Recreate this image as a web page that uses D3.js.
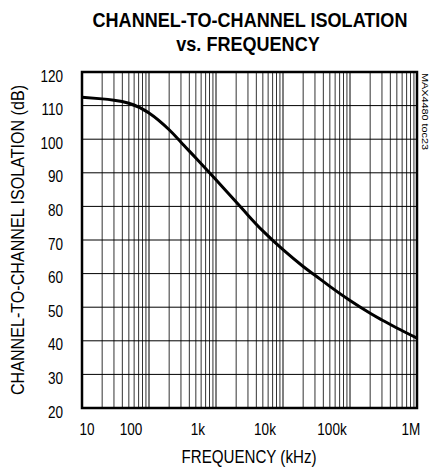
<!DOCTYPE html>
<html>
<head>
<meta charset="utf-8">
<script src="https://cdn.jsdelivr.net/npm/d3@7"></script>
<style>
  body { margin: 0; background: #fff; }
  text { font-family: "Liberation Sans Narrow", "Arial Narrow", "Liberation Sans", sans-serif; fill: #000; }
</style>
</head>
<body>
<div id="chart"></div>
<script>
// isolation curve (frequency in kHz, isolation in dB)
var freqs = [10, 20, 30, 50, 100, 200, 300, 500, 1000, 2000, 3000, 5000,
             10000, 20000, 30000, 50000, 100000, 200000, 300000, 500000, 1000000];
var isolation = [112.5, 112.0, 111.6, 110.7, 107.8, 102.8, 99.1, 94.4, 87.9, 81.3, 77.4, 72.7,
                 67.1, 62.1, 59.5, 56.2, 52.0, 48.2, 46.2, 43.8, 40.8];

var xTickValues = [10, 100, 1000, 10000, 100000, 1000000];
var xTickLabels = ["10", "100", "1k", "10k", "100k", "1M"];
var yTickValues = [20, 30, 40, 50, 60, 70, 80, 90, 100, 110, 120];

var W = 429, H = 470;
var margin = { left: 82, right: 12, top: 72, bottom: 62 };

var svg = d3.select('#chart').append('svg')
    .attr('width', W)
    .attr('height', H);

var x = d3.scaleLog()
    .domain([10, 1000000])
    .range([margin.left, W - margin.right]);

var y = d3.scaleLinear()
    .domain([20, 120])
    .range([H - margin.bottom, margin.top]);

// squeeze text to a narrow face (no Arial Narrow here)
function narrow(sel, factor) {
    sel.each(function(){
        var len = this.getComputedTextLength();
        d3.select(this)
            .attr('textLength', len * factor)
            .attr('lengthAdjust', 'spacingAndGlyphs');
    });
}

// vertical grid, 1..9 per decade
svg.append('g')
    .selectAll('line')
    .data(x.ticks())
    .enter().append('line')
    .attr('x1', function(d){ return x(d); })
    .attr('x2', function(d){ return x(d); })
    .attr('y1', y(20))
    .attr('y2', y(120))
    .attr('stroke', function(d){ return xTickValues.indexOf(d) >= 0 ? '#000' : '#333'; })
    .attr('stroke-width', 1);

// horizontal grid
svg.append('g')
    .selectAll('line')
    .data(yTickValues)
    .enter().append('line')
    .attr('x1', x(10))
    .attr('x2', x(1000000))
    .attr('y1', function(d){ return y(d); })
    .attr('y2', function(d){ return y(d); })
    .attr('stroke', '#000')
    .attr('stroke-width', 1);

// frame
svg.append('rect')
    .attr('x', x(10))
    .attr('y', y(120))
    .attr('width', x(1000000) - x(10))
    .attr('height', y(20) - y(120))
    .attr('fill', 'none')
    .attr('stroke', '#000')
    .attr('stroke-width', 2.5);

// curve
var line = d3.line()
    .x(function(d){ return x(d[0]); })
    .y(function(d){ return y(d[1]); })
    .curve(d3.curveNatural);

svg.append('path')
    .datum(d3.zip(freqs, isolation))
    .attr('d', line)
    .attr('fill', 'none')
    .attr('stroke', '#000')
    .attr('stroke-width', 3)
    .attr('stroke-linejoin', 'round');

// y tick labels
svg.append('g')
    .selectAll('text')
    .data(yTickValues)
    .enter().append('text')
    .attr('x', x(10) - 19)
    .attr('y', function(d){ return y(d) + 9.5; })
    .attr('text-anchor', 'end')
    .attr('font-size', 16.5)
    .text(function(d){ return d; })
    .call(narrow, 0.82);

// x tick labels (ends kept inside the frame like the original)
svg.append('g')
    .selectAll('text')
    .data(xTickValues)
    .enter().append('text')
    .attr('x', function(d){ return x(d); })
    .attr('dx', function(d, i){
        if (i === 0) return 5;
        if (i === xTickValues.length - 1) return -6;
        return -18;
    })
    .attr('y', y(20) + 27)
    .attr('text-anchor', 'middle')
    .attr('font-size', 16.5)
    .text(function(d, i){ return xTickLabels[i]; })
    .call(narrow, 0.82);

// titles, squeezed with a transform so the box stays inside the page
svg.append('text')
    .attr('transform', 'translate(250,27) scale(0.86,1)')
    .attr('text-anchor', 'middle')
    .attr('font-size', 21)
    .attr('font-weight', 'bold')
    .text('CHANNEL-TO-CHANNEL ISOLATION');

svg.append('text')
    .attr('transform', 'translate(248,51) scale(0.86,1)')
    .attr('text-anchor', 'middle')
    .attr('font-size', 21)
    .attr('font-weight', 'bold')
    .text('vs. FREQUENCY');

svg.append('text')
    .attr('x', 249).attr('y', 463)
    .attr('text-anchor', 'middle')
    .attr('font-size', 18)
    .attr('textLength', 135)
    .attr('lengthAdjust', 'spacingAndGlyphs')
    .text('FREQUENCY (kHz)');

svg.append('text')
    .attr('transform', 'translate(24,240) rotate(-90)')
    .attr('text-anchor', 'middle')
    .attr('font-size', 18.5)
    .attr('textLength', 310)
    .attr('lengthAdjust', 'spacingAndGlyphs')
    .text('CHANNEL-TO-CHANNEL ISOLATION (dB)');

svg.append('text')
    .attr('transform', 'translate(422,73) rotate(90)')
    .attr('text-anchor', 'start')
    .attr('font-size', 8.5)
    .attr('textLength', 77)
    .attr('lengthAdjust', 'spacingAndGlyphs')
    .text('MAX4480 toc23');
</script>
</body>
</html>
